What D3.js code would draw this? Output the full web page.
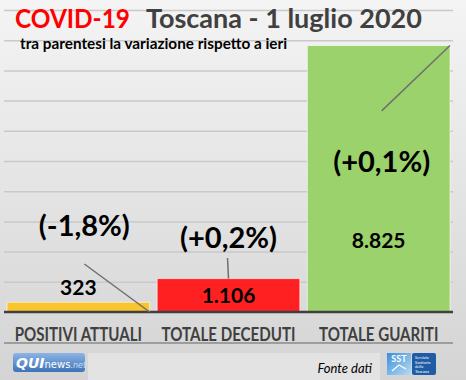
<!DOCTYPE html>
<html lang="it">
<head>
<meta charset="UTF-8">
<title>COVID-19 Toscana</title>
<script src="https://cdn.jsdelivr.net/npm/d3@7"></script>
<style>
  body { margin: 0; background: #fff; }
  svg { display: block; font-family: Lato, "Open Sans", sans-serif; }
</style>
</head>
<body>
<div id="chart"></div>
<script>
// dati
var categories = ["POSITIVI ATTUALI", "TOTALE DECEDUTI", "TOTALE GUARITI"];
var values = [323, 1106, 8825];
var valueLabels = ["323", "1.106", "8.825"];
var changes = ["(-1,8%)", "(+0,2%)", "(+0,1%)"];
var barColors = ["#f8c52f", "#ff2121", "#9bd26b"];
var yTicks = d3.range(0, 10001, 1000);

// posizione etichette (in unita' dell'asse y), come spostate a mano nel foglio
var valueLabelAt = [560, 300, 2120];
var changeLabelAt = [2510, 2130, 4640];
var changeDx = [6, 0, 3];
var leaderFrom = [1590, 1790, 6660];
var leaderDx = [6, -1, 3];

var W = 466, H = 380;
var svg = d3.select("#chart").append("svg").attr("width", W).attr("height", H);

var defs = svg.append("defs");
var bg = defs.append("linearGradient").attr("id", "bg").attr("x1", 0).attr("y1", 0).attr("x2", 0).attr("y2", 1);
bg.append("stop").attr("offset", "0%").attr("stop-color", "#f4f4f4");
bg.append("stop").attr("offset", "100%").attr("stop-color", "#d4d4d4");
var qui = defs.append("linearGradient").attr("id", "qui").attr("x1", 0).attr("y1", 0).attr("x2", 0).attr("y2", 1);
qui.append("stop").attr("offset", "0%").attr("stop-color", "#8db4e4");
qui.append("stop").attr("offset", "100%").attr("stop-color", "#3d73b8");
var sst = defs.append("linearGradient").attr("id", "sst").attr("x1", 0).attr("y1", 0).attr("x2", 1).attr("y2", 1);
sst.append("stop").attr("offset", "0%").attr("stop-color", "#3a8fd8");
sst.append("stop").attr("offset", "100%").attr("stop-color", "#b8dcf4");

svg.append("rect").attr("width", W).attr("height", H).attr("fill", "url(#bg)");

var x = d3.scaleBand().domain(categories).range([4, 453]).paddingInner(0.05).paddingOuter(0.02);
var y = d3.scaleLinear().domain([0, 10000]).range([312, 10]);

// griglia
svg.append("g")
    .attr("transform", "translate(4,0)")
    .call(d3.axisLeft(y).tickValues(yTicks.slice(1)).tickSize(-(453 - 4)).tickFormat(""))
    .call(function (g) {
        g.select(".domain").remove();
        g.selectAll(".tick line").attr("stroke", "#c9c9c9").attr("stroke-width", 1.5);
    });

// barre
svg.append("g").selectAll("rect")
    .data(values)
    .join("rect")
    .attr("x", function (d, i) { return x(categories[i]); })
    .attr("y", function (d) { return y(d); })
    .attr("width", x.bandwidth())
    .attr("height", function (d) { return y(0) - y(d); })
    .attr("fill", function (d, i) { return barColors[i]; })
    .attr("stroke", "#ffffff")
    .attr("stroke-opacity", 0.6)
    .attr("stroke-width", 1);

// linea base + categorie (font stretto come Calibri)
svg.append("g")
    .attr("transform", "translate(0," + y(0) + ")")
    .call(d3.axisBottom(x).tickSize(0))
    .call(function (g) {
        g.select(".domain").attr("stroke", "#404040").attr("stroke-width", 2.5)
            .attr("d", "M4,0H453");
        g.selectAll(".tick text")
            .attr("font-family", "Lato, sans-serif")
            .attr("font-size", 18)
            .attr("font-weight", "bold")
            .attr("fill", "#404040")
            .attr("dy", null)
            .attr("y", 29)
            .attr("transform", "scale(0.84,1)");
    });

svg.append("line").attr("x1", 4).attr("x2", 453).attr("y1", 343).attr("y2", 343)
    .attr("stroke", "#8a8a8a").attr("stroke-width", 1.5);

// linee di richiamo
var leaderTo = [
    function (i) { return [x(categories[i]) + x.bandwidth(), y(0)]; },
    function (i) { return [x(categories[i]) + x.bandwidth() / 2, y(values[i])]; },
    function (i) { return [x(categories[i]) + x.bandwidth(), y(values[i])]; }
];
svg.append("g").selectAll("line")
    .data(values)
    .join("line")
    .attr("x1", function (d, i) { return x(categories[i]) + x.bandwidth() / 2 + leaderDx[i]; })
    .attr("y1", function (d, i) { return y(leaderFrom[i]); })
    .attr("x2", function (d, i) { return leaderTo[i](i)[0]; })
    .attr("y2", function (d, i) { return leaderTo[i](i)[1]; })
    .attr("stroke", "#707070")
    .attr("stroke-width", 1.5);

// etichette valori
svg.append("g").selectAll("text")
    .data(valueLabels)
    .join("text")
    .attr("x", function (d, i) { return x(categories[i]) + x.bandwidth() / 2; })
    .attr("y", function (d, i) { return y(valueLabelAt[i]); })
    .attr("text-anchor", "middle")
    .attr("font-size", 21)
    .attr("font-weight", "bold")
    .attr("fill", "#000")
    .text(function (d) { return d; });

// etichette variazione
svg.append("g").selectAll("text")
    .data(changes)
    .join("text")
    .attr("x", function (d, i) { return x(categories[i]) + x.bandwidth() / 2 + changeDx[i]; })
    .attr("y", function (d, i) { return y(changeLabelAt[i]); })
    .attr("text-anchor", "middle")
    .attr("font-size", 29)
    .attr("font-weight", "bold")
    .attr("fill", "#000")
    .text(function (d) { return d; });

// titolo
svg.append("text").attr("x", 15).attr("y", 28)
    .attr("font-size", 26).attr("font-weight", "bold").attr("fill", "#ff0000")
    .attr("textLength", 115).attr("lengthAdjust", "spacingAndGlyphs")
    .text("COVID-19");
svg.append("text").attr("x", 146).attr("y", 28)
    .attr("font-size", 27).attr("font-weight", "bold").attr("fill", "#404040")
    .text("Toscana - 1 luglio 2020");

svg.append("text").attr("x", 20).attr("y", 49)
    .attr("font-size", 15.3).attr("font-weight", "bold").attr("fill", "#000")
    .text("tra parentesi la variazione rispetto a ieri");

// piede
svg.append("rect").attr("x", 88).attr("y", 353).attr("width", 292).attr("height", 27).attr("fill", "#e3e3e3");
svg.append("text").attr("x", 372).attr("y", 373).attr("text-anchor", "end")
    .attr("font-size", 13).attr("font-style", "italic").attr("fill", "#000").text("Fonte dati");

var q = svg.append("g").attr("transform", "translate(13,353)");
q.append("rect").attr("width", 72).attr("height", 19).attr("rx", 3).attr("fill", "url(#qui)");
var qt = q.append("text").attr("x", 3).attr("y", 15).attr("font-family", "'DejaVu Sans', sans-serif").attr("font-weight", "bold");
qt.append("tspan").attr("font-size", 14).attr("fill", "#fff").attr("font-style", "italic").text("QUI");
qt.append("tspan").attr("font-size", 10).attr("fill", "#fff").attr("font-weight", "normal").text("news");
qt.append("tspan").attr("font-size", 8).attr("fill", "#cfe0f5").attr("font-weight", "normal").attr("font-style", "italic").text(".net");

var s = svg.append("g").attr("transform", "translate(387,353)");
s.append("rect").attr("width", 24).attr("height", 22).attr("fill", "url(#sst)");
s.append("text").attr("x", 12).attr("y", 9).attr("text-anchor", "middle").attr("font-size", 9)
    .attr("font-weight", "bold").attr("fill", "#fff").text("SST");
s.append("path").attr("d", "M5,18 L12,12 L19,16").attr("stroke", "#fff").attr("fill", "none").attr("stroke-width", 1.2);
s.append("rect").attr("x", 25).attr("width", 24).attr("height", 22).attr("rx", 2).attr("fill", "#1f5ca6");
["Servizio", "Sanitario", "della", "Toscana"].forEach(function (t, i) {
    s.append("text").attr("x", 28).attr("y", 6 + i * 4.5).attr("font-size", 4).attr("fill", "#fff").text(t);
});
</script>
</body>
</html>
